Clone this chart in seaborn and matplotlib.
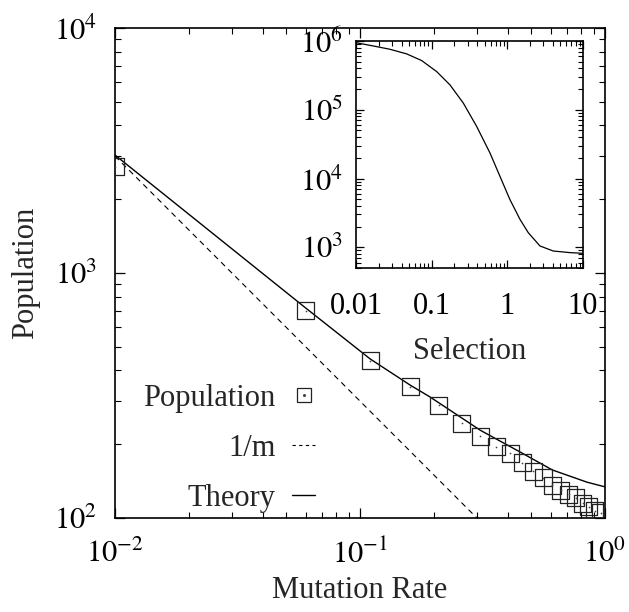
import matplotlib
matplotlib.use("Agg")
import matplotlib.pyplot as plt
import matplotlib.ticker as mticker
from matplotlib.legend_handler import HandlerTuple
from matplotlib.lines import Line2D
import seaborn as sns
import pandas as pd

# ---- data ----
mut_rate = [0.01, 0.06, 0.11, 0.16, 0.21, 0.26, 0.31, 0.36, 0.41, 0.46,
            0.51, 0.56, 0.61, 0.66, 0.71, 0.76, 0.81, 0.86, 0.91, 0.96]
population = [2710, 700, 438, 343, 289, 244, 216, 195, 184, 168,
              155, 146, 136, 130, 125, 121, 115, 111, 107, 105]

inv_x = [0.01, 0.30]
inv_y = [3000, 100]

theory_x = [0.01, 0.06, 0.11, 0.16, 0.193, 0.31, 0.45, 0.61, 0.845, 1.0]
theory_y = [3030, 720, 446, 349, 312, 228, 186, 157, 140, 134]

sel_x = [0.01, 0.0169, 0.0281, 0.0468, 0.0738, 0.1165, 0.1746, 0.262, 0.393,
         0.589, 0.798, 1.08, 1.47, 1.89, 2.70, 4.05, 6.71, 9.9]
sel_y = [9.45e5, 8.47e5, 7.58e5, 6.49e5, 5.19e5, 3.59e5, 2.30e5, 1.25e5, 5.73e4,
         2.36e4, 1.08e4, 4966, 2547, 1633, 1045, 883, 837, 818]

main_xticklabels = ["$10^{\\mathsf{-}2}$", "$10^{\\mathsf{-}1}$", "$10^{0}$"]
main_yticklabels = ["$10^{2}$", "$10^{3}$", "$10^{4}$"]
sel_ticklabels = ["0.01", "0.1", "1", "10"]
sel_yticklabels = ["$10^{3}$", "$10^{4}$", "$10^{5}$", "$10^{6}$"]

# ---- style ----
sns.set_theme(style="ticks")
plt.rcParams["font.family"] = ["Liberation Serif", "DejaVu Serif"]
plt.rcParams["mathtext.fontset"] = "stix"
FS = 22

fig = plt.figure(figsize=(6.29, 6.12), dpi=100)
ax = fig.add_axes([115 / 629, 1 - 518 / 612, 490 / 629, 490 / 612])

df_pts = pd.DataFrame({"m": mut_rate, "N": population})
df_inv = pd.DataFrame({"m": inv_x, "N": inv_y})
df_th = pd.DataFrame({"m": theory_x, "N": theory_y})

sns.lineplot(data=df_th, x="m", y="N", ax=ax, color="black", lw=1.0,
             sort=False, estimator=None)
sns.lineplot(data=df_inv, x="m", y="N", ax=ax, color="black", lw=0.8,
             linestyle=(0, (5, 4)), sort=False, estimator=None)
sns.scatterplot(data=df_pts, x="m", y="N", ax=ax, marker="s", s=150,
                facecolor="none", edgecolor="#222222", linewidth=0.9, zorder=3)
sns.scatterplot(data=df_pts, x="m", y="N", ax=ax, marker="o", s=1.5,
                color="#444444", linewidth=0, zorder=4)

ax.set_xscale("log")
ax.set_yscale("log")
ax.set_xlim(0.01, 1)
ax.set_ylim(100, 1e4)

def style_axes(a, fs, major_len, minor_len):
    a.tick_params(which="both", direction="in", top=True, right=True,
                  colors="black", labelsize=fs)
    a.tick_params(which="major", length=major_len, width=0.9)
    a.tick_params(which="minor", length=minor_len, width=0.8)
    for sp in a.spines.values():
        sp.set_linewidth(1.2)
        sp.set_color("black")

style_axes(ax, FS, 7, 4)
ax.tick_params(axis="x", pad=16)
ax.tick_params(axis="y", pad=13)
ax.xaxis.set_major_locator(mticker.FixedLocator([0.01, 0.1, 1]))
ax.xaxis.set_major_formatter(mticker.FixedFormatter(main_xticklabels))
ax.yaxis.set_major_locator(mticker.FixedLocator([100, 1000, 10000]))
ax.yaxis.set_major_formatter(mticker.FixedFormatter(main_yticklabels))
ax.xaxis.set_minor_locator(mticker.LogLocator(base=10, subs=range(2, 10), numticks=20))
ax.yaxis.set_minor_locator(mticker.LogLocator(base=10, subs=range(2, 10), numticks=20))
ax.xaxis.set_minor_formatter(mticker.NullFormatter())
ax.yaxis.set_minor_formatter(mticker.NullFormatter())
ax.set_xlabel("Mutation Rate", fontsize=FS, labelpad=4)
ax.set_ylabel("Population", fontsize=FS, labelpad=10)

# legend
sq = Line2D([], [], marker="s", ls="none", mfc="none", mec="#222222", ms=10, mew=0.9)
dot = Line2D([], [], marker="o", ls="none", color="#444444", ms=1.2)
dash = Line2D([], [], color="black", lw=0.8, ls=(0, (3, 3)))
solid = Line2D([], [], color="black", lw=1.0)
leg = ax.legend([(sq, dot), dash, solid], ["Population", "1/m", "Theory"],
                handler_map={tuple: HandlerTuple(ndivide=1)},
                loc="upper right", bbox_to_anchor=(315 / 629, 1 - 384 / 612),
                bbox_transform=fig.transFigure, frameon=False, markerfirst=False,
                fontsize=FS, handlelength=0.75, handletextpad=0.55,
                labelspacing=0.68, borderpad=0, borderaxespad=0)

# inset
axi = fig.add_axes([356 / 629, 1 - 268 / 612, 227 / 629, 227 / 612])
df_sel = pd.DataFrame({"s": sel_x, "N": sel_y})
sns.lineplot(data=df_sel, x="s", y="N", ax=axi, color="black", lw=0.9,
             sort=False, estimator=None)
axi.set_xscale("log")
axi.set_yscale("log")
axi.set_xlim(0.01, 10)
axi.set_ylim(500, 1e6)
style_axes(axi, FS, 6, 3.5)
axi.tick_params(axis="x", pad=17)
axi.tick_params(axis="y", pad=9)
axi.xaxis.set_major_locator(mticker.FixedLocator([0.01, 0.1, 1, 10]))
axi.xaxis.set_major_formatter(mticker.FixedFormatter(sel_ticklabels))
axi.xaxis.set_minor_locator(mticker.LogLocator(base=10, subs=range(2, 10), numticks=20))
axi.xaxis.set_minor_formatter(mticker.NullFormatter())
axi.yaxis.set_major_locator(mticker.FixedLocator([1e3, 1e4, 1e5, 1e6]))
axi.yaxis.set_major_formatter(mticker.FixedFormatter(sel_yticklabels))
axi.yaxis.set_minor_locator(mticker.LogLocator(base=10, subs=range(2, 10), numticks=20))
axi.yaxis.set_minor_formatter(mticker.NullFormatter())
axi.set_xlabel("Selection", fontsize=FS, labelpad=12)
axi.set_ylabel("")

fig.savefig("out.png", dpi=100)
